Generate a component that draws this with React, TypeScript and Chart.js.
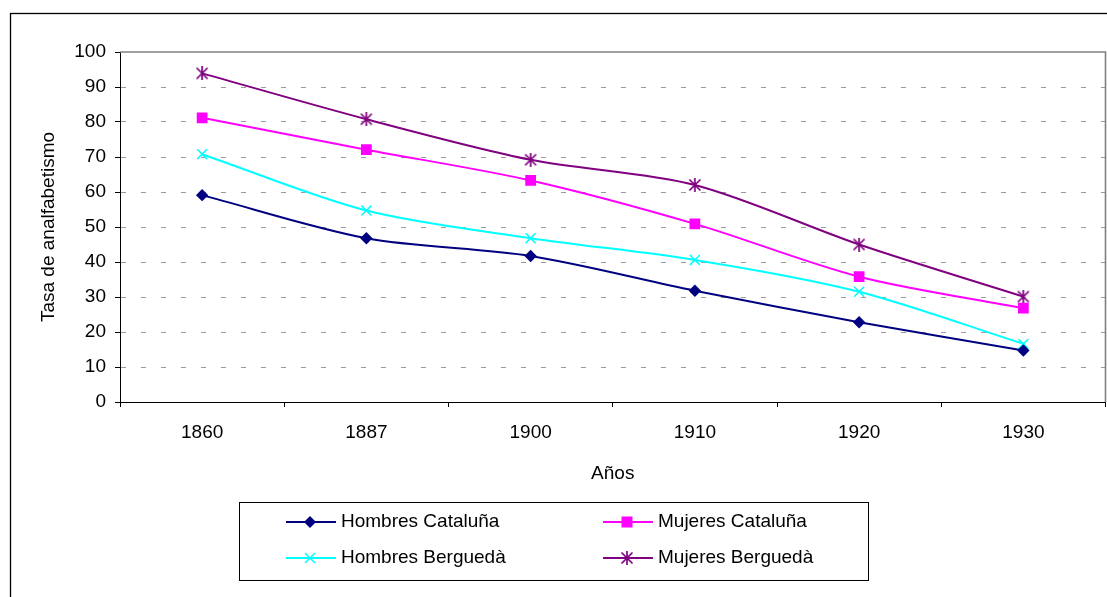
import React, { useEffect, useRef } from 'react';
import { Chart, registerables } from 'chart.js';

Chart.register(...registerables);

const years = ['1860', '1887', '1900', '1910', '1920', '1930'];
const hombresCataluna = [59.1, 46.8, 41.7, 31.8, 22.8, 14.7];
const mujeresCataluna = [81.2, 72.1, 63.3, 50.9, 35.8, 26.8];
const hombresBergueda = [70.8, 54.7, 46.8, 40.6, 31.5, 16.6];
const mujeresBergueda = [93.9, 80.8, 69.2, 62.0, 45.0, 30.1];
const seriesNames = ['Hombres Cataluña', 'Mujeres Cataluña', 'Hombres Berguedà', 'Mujeres Berguedà'];
const seriesColors = ['#000080', '#FF00FF', '#00FFFF', '#800080'];
const yAxisTitle = 'Tasa de analfabetismo';
const xAxisTitle = 'Años';

const FONT = 'Arial, "Liberation Sans", sans-serif';
const FS = 19;
const CANVAS_W = 1114;

function makeStar(color: string) {
  const c = document.createElement('canvas');
  c.width = 14;
  c.height = 14;
  const g = c.getContext('2d')!;
  g.strokeStyle = color;
  g.lineWidth = 1.7;
  g.beginPath();
  g.moveTo(1.5, 1.5); g.lineTo(12.5, 12.5);
  g.moveTo(12.5, 1.5); g.lineTo(1.5, 12.5);
  g.moveTo(7, 0); g.lineTo(7, 14);
  g.stroke();
  return c;
}

function drawMarker(ctx: CanvasRenderingContext2D, i: number, x: number, y: number, star: HTMLCanvasElement) {
  const col = seriesColors[i];
  ctx.save();
  ctx.fillStyle = col;
  ctx.strokeStyle = col;
  if (i === 0) {
    ctx.beginPath();
    ctx.moveTo(x, y - 6); ctx.lineTo(x + 6, y); ctx.lineTo(x, y + 6); ctx.lineTo(x - 6, y);
    ctx.closePath(); ctx.fill();
  } else if (i === 1) {
    ctx.fillRect(x - 5.5, y - 5.5, 11, 11);
  } else if (i === 2) {
    ctx.lineWidth = 1.5;
    ctx.beginPath();
    ctx.moveTo(x - 5, y - 5); ctx.lineTo(x + 5, y + 5);
    ctx.moveTo(x + 5, y - 5); ctx.lineTo(x - 5, y + 5);
    ctx.stroke();
  } else {
    ctx.drawImage(star, x - 7, y - 7);
  }
  ctx.restore();
}

export default function App() {
  const ref = useRef<HTMLCanvasElement | null>(null);
  useEffect(() => {
    if (!ref.current) return;
    const star = makeStar(seriesColors[3]);
    const values = [hombresCataluna, mujeresCataluna, hombresBergueda, mujeresBergueda];
    const pointStyles: any[] = ['rectRot', 'rect', 'crossRot', star];
    const radii = [6.2, 7.6, 7, 7];

    const framePlugin = {
      id: 'frame',
      beforeDraw(chart: any) {
        const ctx = chart.ctx;
        ctx.save();
        ctx.fillStyle = '#fff';
        ctx.fillRect(0, 0, chart.width, chart.height);
        ctx.strokeStyle = '#000';
        ctx.lineWidth = 1.3;
        ctx.strokeRect(10.5, 13.5, 1200, 700);
        ctx.restore();
      },
      afterDraw(chart: any) {
        const ctx = chart.ctx;
        const a = chart.chartArea;
        ctx.save();
        ctx.strokeStyle = '#808080';
        ctx.lineWidth = 1.6;
        ctx.beginPath();
        ctx.moveTo(a.left, a.top);
        ctx.lineTo(a.right, a.top);
        ctx.lineTo(a.right, a.bottom);
        ctx.stroke();
        // legend
        ctx.strokeStyle = '#000';
        ctx.lineWidth = 1;
        ctx.strokeRect(239.5, 502.5, 629, 78);
        const pos = [[286, 522], [603, 522], [286, 558], [603, 558]];
        ctx.font = `${FS}px ${FONT}`;
        ctx.textBaseline = 'middle';
        ctx.textAlign = 'left';
        for (let i = 0; i < 4; i++) {
          const [x, y] = pos[i];
          ctx.strokeStyle = seriesColors[i];
          ctx.lineWidth = 2;
          ctx.beginPath();
          ctx.moveTo(x, y); ctx.lineTo(x + 50, y);
          ctx.stroke();
          drawMarker(ctx, i, x + 24, y, star);
          ctx.fillStyle = '#000';
          ctx.fillText(seriesNames[i], x + 55, y);
        }
        ctx.restore();
      },
    };

    const chart = new Chart(ref.current, {
      type: 'line',
      data: {
        labels: years,
        datasets: values.map((v, i) => ({
          label: seriesNames[i],
          data: v,
          borderColor: seriesColors[i],
          backgroundColor: seriesColors[i],
          borderWidth: 2,
          tension: 0.3,
          fill: false,
          pointStyle: pointStyles[i],
          pointRadius: radii[i],
          pointBorderWidth: i === 2 ? 1.5 : 0,
          pointBackgroundColor: seriesColors[i],
          pointBorderColor: seriesColors[i],
        })),
      },
      options: {
        animation: false,
        responsive: false,
        layout: { padding: { left: 37, top: 52, right: 2, bottom: 111.6 } },
        plugins: { legend: { display: false }, tooltip: { enabled: false } },
        scales: {
          x: {
            offset: true,
            grid: {
              offset: true,
              drawOnChartArea: false,
              tickLength: 5,
              color: '#000',
              tickColor: '#000',
            },
            border: { color: '#000', width: 1 },
            ticks: { color: '#000', padding: 14, font: { family: FONT, size: FS } },
            title: {
              display: true,
              text: xAxisTitle,
              color: '#000',
              font: { family: FONT, size: FS },
              padding: { top: 0, bottom: 0 },
            },
            afterFit: (s: any) => { s.height = 83.4; s.paddingLeft = 0; s.paddingRight = 0; },
          },
          y: {
            min: 0,
            max: 100,
            ticks: { stepSize: 10, color: '#000', padding: 9, font: { family: FONT, size: FS } },
            grid: {
              tickLength: 5,
              lineWidth: 1,
              color: (c: any) => (c.tick && (c.tick.value === 0 || c.tick.value === 100) ? 'rgba(0,0,0,0)' : '#9a9a9a'),
              tickColor: '#000',
              tickBorderDash: [],
            } as any,
            border: { color: '#000', width: 1, dash: [5, 15] },
            title: {
              display: true,
              text: yAxisTitle,
              color: '#000',
              font: { family: FONT, size: FS },
              padding: { top: 0, bottom: 0 },
            },
            afterFit: (s: any) => { s.width = 83; s.paddingTop = 0; s.paddingBottom = 0; },
          },
        },
      },
      plugins: [framePlugin],
    });
    return () => chart.destroy();
  }, []);
  return (
    <div style={{ position: 'fixed', left: 0, top: 0, width: 1107, height: 597, overflow: 'hidden' }}>
      <canvas ref={ref} width={CANVAS_W} height={597} style={{ display: 'block' }} />
    </div>
  );
}
